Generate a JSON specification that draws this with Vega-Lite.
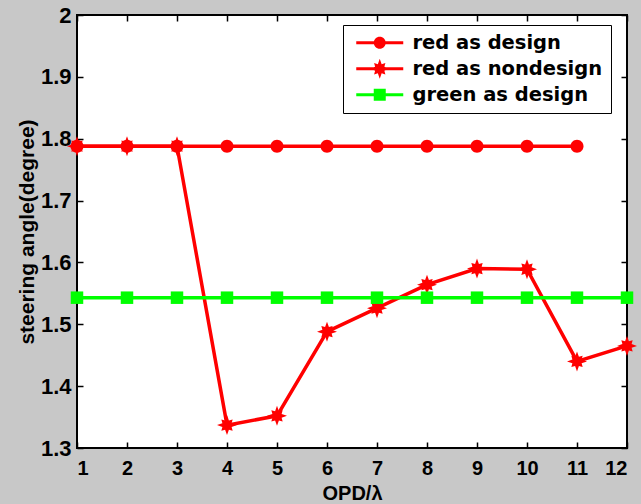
{
  "$schema": "https://vega.github.io/schema/vega-lite/v6.json",
  "width": 550,
  "height": 433,
  "autosize": {"type": "none"},
  "padding": {"left": 77, "top": 15, "right": 14, "bottom": 56},
  "background": "#c8c8c8",
  "data": {
    "values": [
      {"series": "red as design", "x": 1, "y": 1.788},
      {"series": "red as design", "x": 2, "y": 1.788},
      {"series": "red as design", "x": 3, "y": 1.788},
      {"series": "red as design", "x": 4, "y": 1.788},
      {"series": "red as design", "x": 5, "y": 1.788},
      {"series": "red as design", "x": 6, "y": 1.788},
      {"series": "red as design", "x": 7, "y": 1.788},
      {"series": "red as design", "x": 8, "y": 1.788},
      {"series": "red as design", "x": 9, "y": 1.788},
      {"series": "red as design", "x": 10, "y": 1.788},
      {"series": "red as design", "x": 11, "y": 1.788},
      {"series": "red as nondesign", "x": 1, "y": 1.788},
      {"series": "red as nondesign", "x": 2, "y": 1.788},
      {"series": "red as nondesign", "x": 3, "y": 1.788},
      {"series": "red as nondesign", "x": 4, "y": 1.337},
      {"series": "red as nondesign", "x": 5, "y": 1.352},
      {"series": "red as nondesign", "x": 6, "y": 1.488},
      {"series": "red as nondesign", "x": 7, "y": 1.526},
      {"series": "red as nondesign", "x": 8, "y": 1.564},
      {"series": "red as nondesign", "x": 9, "y": 1.59},
      {"series": "red as nondesign", "x": 10, "y": 1.589},
      {"series": "red as nondesign", "x": 11, "y": 1.44},
      {"series": "red as nondesign", "x": 12, "y": 1.465},
      {"series": "green as design", "x": 1, "y": 1.543},
      {"series": "green as design", "x": 2, "y": 1.543},
      {"series": "green as design", "x": 3, "y": 1.543},
      {"series": "green as design", "x": 4, "y": 1.543},
      {"series": "green as design", "x": 5, "y": 1.543},
      {"series": "green as design", "x": 6, "y": 1.543},
      {"series": "green as design", "x": 7, "y": 1.543},
      {"series": "green as design", "x": 8, "y": 1.543},
      {"series": "green as design", "x": 9, "y": 1.543},
      {"series": "green as design", "x": 10, "y": 1.543},
      {"series": "green as design", "x": 11, "y": 1.543},
      {"series": "green as design", "x": 12, "y": 1.543}
    ]
  },
  "layer": [
    {
      "mark": {"type": "line", "strokeWidth": 3.5, "clip": false},
      "encoding": {
        "x": {"field": "x", "type": "quantitative", "scale": {"domain": [1, 12], "nice": false, "zero": false},
              "axis": {"orient": "bottom", "values": [1,2,3,4,5,6,7,8,9,10,11,12], "title": "OPD/λ", "titlePadding": 5, "labelPadding": 16}},
        "y": {"field": "y", "type": "quantitative", "scale": {"domain": [1.3, 2], "nice": false, "zero": false},
              "axis": {"orient": "left", "values": [1.3,1.4,1.5,1.6,1.7,1.8,1.9,2], "format": "~g", "title": "steering angle(degree)", "titlePadding": 3, "labelPadding": 12, "labelFontSize": 22, "titleFontSize": 21}},
        "color": {"field": "series", "type": "nominal",
                  "scale": {"domain": ["red as design", "red as nondesign", "green as design"], "range": ["#ff0000", "#ff0000", "#00ff00"]},
                  "legend": null},
        "detail": {"field": "series"}
      }
    },
    {
      "mark": {"type": "point", "filled": true, "size": 100, "strokeWidth": 0, "opacity": 1, "clip": false},
      "encoding": {
        "x": {"field": "x", "type": "quantitative", "axis": {"orient": "top", "values": [1,2,3,4,5,6,7,8,9,10,11,12], "labels": false, "title": null}},
        "y": {"field": "y", "type": "quantitative", "axis": {"orient": "right", "values": [1.3,1.4,1.5,1.6,1.7,1.8,1.9,2], "labels": false, "title": null}},
        "color": {"field": "series", "type": "nominal",
                  "scale": {"domain": ["red as design", "red as nondesign", "green as design"], "range": ["#ff0000", "#ff0000", "#00ff00"]},
                  "legend": null},
        "shape": {"field": "series", "type": "nominal",
                  "scale": {"domain": ["red as design", "red as nondesign", "green as design"],
                            "range": [
                              "M1.3,0A1.3,1.3 0 1,1 -1.3,0A1.3,1.3 0 1,1 1.3,0Z",
                              "M2,0L0.924,0.383L1.131,1.131L0.383,0.924L0,2L-0.383,0.924L-1.131,1.131L-0.924,0.383L-2,0L-0.924,-0.383L-1.131,-1.131L-0.383,-0.924L0,-2L0.383,-0.924L1.131,-1.131L0.924,-0.383Z",
                              "M-1.25,-1.25H1.25V1.25H-1.25Z"
                            ]},
                  "legend": null}
      }
    },
    {
      "transform": [{"filter": "datum.x < 0"}],
      "mark": {"type": "point", "filled": true, "size": 100, "strokeWidth": 0, "opacity": 1},
      "encoding": {
        "x": {"field": "x", "type": "quantitative", "axis": null},
        "y": {"field": "y", "type": "quantitative", "axis": null},
        "color": {"field": "series", "type": "nominal",
                  "scale": {"domain": ["red as design", "red as nondesign", "green as design"], "range": ["#ff0000", "#ff0000", "#00ff00"]},
                  "legend": {"title": null}},
        "shape": {"field": "series", "type": "nominal",
                  "scale": {"domain": ["red as design", "red as nondesign", "green as design"],
                            "range": [
                              "M-4.7,-0.3H4.7V0.3H-4.7ZM1.2,0A1.2,1.2 0 1,1 -1.2,0A1.2,1.2 0 1,1 1.2,0Z",
                              "M-4.7,-0.3H4.7V0.3H-4.7ZM2,0L0.924,0.383L1.131,1.131L0.383,0.924L0,2L-0.383,0.924L-1.131,1.131L-0.924,0.383L-2,0L-0.924,-0.383L-1.131,-1.131L-0.383,-0.924L0,-2L0.383,-0.924L1.131,-1.131L0.924,-0.383Z",
                              "M-4.7,-0.3H4.7V0.3H-4.7ZM-1.2,-1.2H1.2V1.2H-1.2Z"
                            ]},
                  "legend": {"title": null}}
      }
    }
  ],
  "resolve": {
    "axis": {"x": "independent", "y": "independent"},
    "scale": {"color": "independent", "shape": "independent"}
  },
  "config": {
    "view": {"fill": "white", "stroke": "black", "strokeWidth": 2},
    "axis": {
      "grid": false, "domain": false,
      "tickColor": "black", "tickSize": -6, "tickWidth": 1.5,
      "labelFont": "Liberation Sans", "labelFontWeight": "bold", "labelFontSize": 20, "labelColor": "black",
      "titleFont": "Liberation Sans", "titleFontWeight": "bold", "titleFontSize": 20, "titleColor": "black"
    },
    "legend": {
      "orient": "none", "legendX": 266, "legendY": 10,
      "strokeColor": "black", "fillColor": "white", "padding": 8,
      "labelFont": "DejaVu Sans", "labelFontWeight": "bold", "labelFontSize": 19.5, "labelColor": "black", "labelLimit": 400,
      "symbolSize": 100, "symbolStrokeWidth": 0, "symbolOffset": 19, "labelOffset": 23, "rowPadding": 5
    }
  }
}
